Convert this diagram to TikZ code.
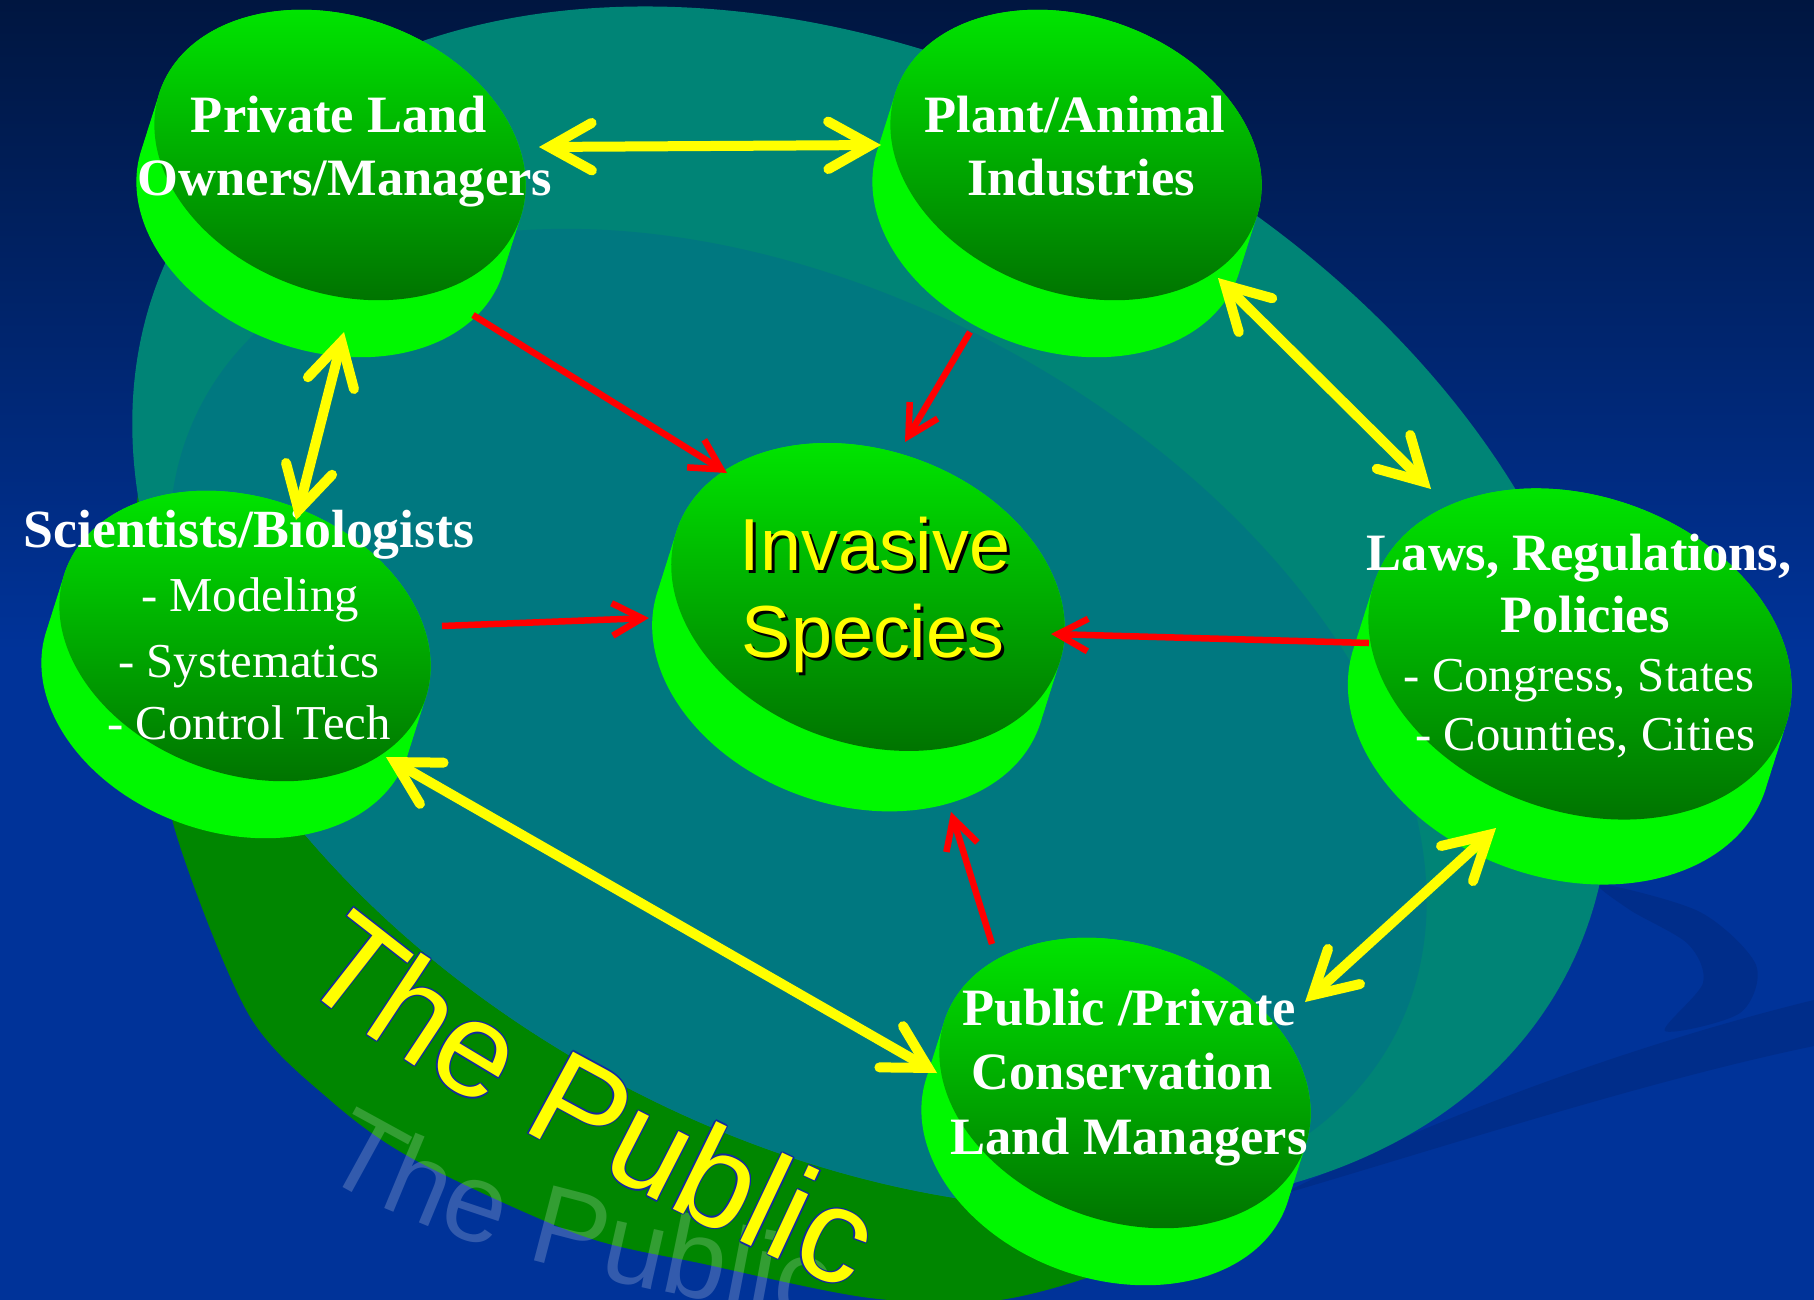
\documentclass[tikz,border=0pt]{standalone}
\usepackage{fontspec}
\setmainfont{Liberation Serif}
\newfontfamily\sansfam{Liberation Sans}
\usetikzlibrary{arrows.meta,calc,decorations.text}

\definecolor{bgtop}{RGB}{0,22,64}
\definecolor{bgblue}{RGB}{0,51,153}
\definecolor{swoosh}{RGB}{0,45,138}
\definecolor{ringteal}{RGB}{0,132,118}
\definecolor{innerteal}{RGB}{0,120,128}
\definecolor{bandgreen}{RGB}{0,134,0}
\definecolor{rimgreen}{RGB}{0,248,0}
\definecolor{facetop}{RGB}{0,236,0}
\definecolor{facemid}{RGB}{0,150,0}
\definecolor{facebot}{RGB}{0,108,0}
\definecolor{arrowyellow}{RGB}{255,255,0}
\definecolor{arrowred}{RGB}{255,0,0}
\definecolor{outlineblue}{RGB}{20,40,160}

\newcommand\publicfont{\sansfam\fontsize{54}{54}\selectfont}
\newcommand\publicshadowfont{\sansfam\fontsize{45}{45}\selectfont}

\tikzset{
  face/.style={top color=facetop, middle color=facemid, bottom color=facebot},
  ttl/.style={text=white, inner sep=0pt, anchor=base, font=\fontsize{21}{21}\selectfont\bfseries},
  itm/.style={text=white, inner sep=0pt, anchor=base, font=\fontsize{19.5}{19.5}\selectfont},
  inv/.style={text=arrowyellow, inner sep=0pt, anchor=base, font=\sansfam\fontsize{29.5}{29.5}\selectfont},
  yarrow/.style={draw=arrowyellow, line width=4pt,
    {Straight Barb[length=17pt,width=19pt,line cap=round]}-{Straight Barb[length=17pt,width=19pt,line cap=round]}},
  rarrow/.style={draw=arrowred, line width=2.6pt, -{Straight Barb[length=12pt,width=13pt]}},
}

% a tilted green disc: bright rim below, shaded top face
\newcommand\drawdisc[4]{%
  \coordinate (#1) at (#2,#3);
  \begin{scope}[shift={(#2,#3)}, scale=#4]
    \foreach \k in {0,0.2,0.4,0.6,0.8,1}
      \fill[rimgreen, shift={(-18*\k,57*\k)}, rotate=-20] (0,0) ellipse [x radius=191, y radius=138];
    \shade[face, rotate=-20] (0,0) ellipse [x radius=191, y radius=138];
  \end{scope}}

\begin{document}
\begin{tikzpicture}[x=0.4pt, y=-0.4pt]
\useasboundingbox (0,0) rectangle (1814,1300);
\clip (0,0) rectangle (1814,1300);

% background
\shade[top color=bgtop, bottom color=bgblue] (0,0) rectangle (1814,650);
\fill[bgblue] (0,649) rectangle (1814,1300);
\fill[swoosh] plot[smooth cycle] coordinates {(1600,884) (1700,912) (1756,965) (1740,1013) (1665,1031) (1703,983) (1688,944) (1630,910)};
\fill[swoosh] (1280,1195) .. controls (1450,1110) and (1650,1040) .. (1814,1000)
  -- (1814,1046) .. controls (1650,1080) and (1450,1145) .. (1280,1195) -- cycle;

% the large disc: green side, teal top face with inner field
\fill[bandgreen] plot[smooth] coordinates {(150,440) (136,520) (150,700) (178,840) (249,1015) (330,1100)
  (415,1160) (580,1235) (704,1264) (870,1298) (1000,1300) (1130,1262) (1268,1189) (1380,1135) (1460,1080)}
  -- (800,500) -- cycle;
\fill[ringteal, rotate around={-28:(871,608)}] (871,608) ellipse [x radius=786, y radius=538];
\begin{scope}
  \clip[rotate around={-28:(871,608)}] (871,608) ellipse [x radius=786, y radius=538];
  \fill[innerteal, rotate around={-28:(798,720)}] (798,720) ellipse [x radius=675, y radius=425];
\end{scope}

% lettering on the side of the large disc
\begin{scope}[opacity=0.2]
  \path[decorate, decoration={text along path, text align=left,
      text={|\publicshadowfont\color{white}|The Public}}]
    (318,1172) .. controls (400,1225) and (540,1278) .. (900,1335);
\end{scope}
\foreach \dx/\dy in {1.3/0,-1.3/0,0/1.3,0/-1.3,0.9/0.9,0.9/-0.9,-0.9/0.9,-0.9/-0.9}
  \path[shift={(\dx,\dy)}, decorate, decoration={text along path, text align=left,
      text={|\publicfont\color{outlineblue}|The Public}}]
    (295,978) .. controls (400,1075) and (700,1235) .. (1000,1355);
\path[decorate, decoration={text along path, text align=left,
    text={|\publicfont\color{arrowyellow}|The Public}}]
  (295,978) .. controls (400,1075) and (700,1235) .. (1000,1355);

% discs
\drawdisc{pl}{340}{155}{1}
\drawdisc{pa}{1076}{155}{1}
\drawdisc{sb}{245}{636}{1}
\drawdisc{is}{868}{597}{1.06}
\drawdisc{lw}{1580}{654}{1.14}
\drawdisc{pp}{1125}{1083}{1}

% labels
\node[ttl] (pl-a) at (339,132) {Private Land};
\node[ttl] (pl-b) at (345,195) {Owners/Managers};
\node[ttl] (pa-a) at (1075,132) {Plant/Animal};
\node[ttl] (pa-b) at (1081,195) {Industries};
\node[ttl, font=\fontsize{21.5}{21.5}\selectfont\bfseries] (sb-a) at (249,547) {Scientists/Biologists};
\node[itm] (sb-b) at (250,611) {- Modeling};
\node[itm] (sb-c) at (249,677) {- Systematics};
\node[itm] (sb-d) at (249,739) {- Control Tech};
\node[ttl] (lw-a) at (1579,570) {Laws, Regulations,};
\node[ttl] (lw-b) at (1585,632) {Policies};
\node[itm] (lw-c) at (1579,691) {- Congress, States};
\node[itm] (lw-d) at (1585,750) {- Counties, Cities};
\node[ttl] (pp-a) at (1129,1025) {Public /Private};
\node[ttl] (pp-b) at (1122,1089) {Conservation};
\node[ttl] (pp-c) at (1129,1154) {Land Managers};
\node[inv, text=black] (is-as) at (878,573) {Invasive};
\node[inv] (is-a) at (875,570) {Invasive};
\node[inv, text=black] (is-bs) at (876,660) {Species};
\node[inv] (is-b) at (873,657) {Species};

% two-way links between the groups
\draw[yarrow] ($(pl)+(199,-8)$) -- ($(pa)+(-195,-10)$);
\draw[yarrow] ($(pl)+(4,177)$) -- ($(sb)+(51,-116)$);
\draw[yarrow] ($(pa)+(142,123)$) -- ($(lw)+(-149,-165)$);
\draw[yarrow] ($(sb)+(141,121)$) -- ($(pp)+(-188,-10)$);
\draw[yarrow] ($(lw)+(-84,174)$) -- ($(pp)+(180,-81)$);

% influences on invasive species
\draw[rarrow] ($(pl)+(133,160)$) -- ($(is)+(-141,-124)$);
\draw[rarrow] ($(pa)+(-106,177)$) -- ($(is)+(37,-155)$);
\draw[rarrow] ($(sb)+(197,-10)$) -- ($(is)+(-219,21)$);
\draw[rarrow] ($(lw)+(-211,-11)$) -- ($(is)+(183,37)$);
\draw[rarrow] ($(pp)+(-133,-139)$) -- ($(is)+(83,215)$);
\end{tikzpicture}
\end{document}
